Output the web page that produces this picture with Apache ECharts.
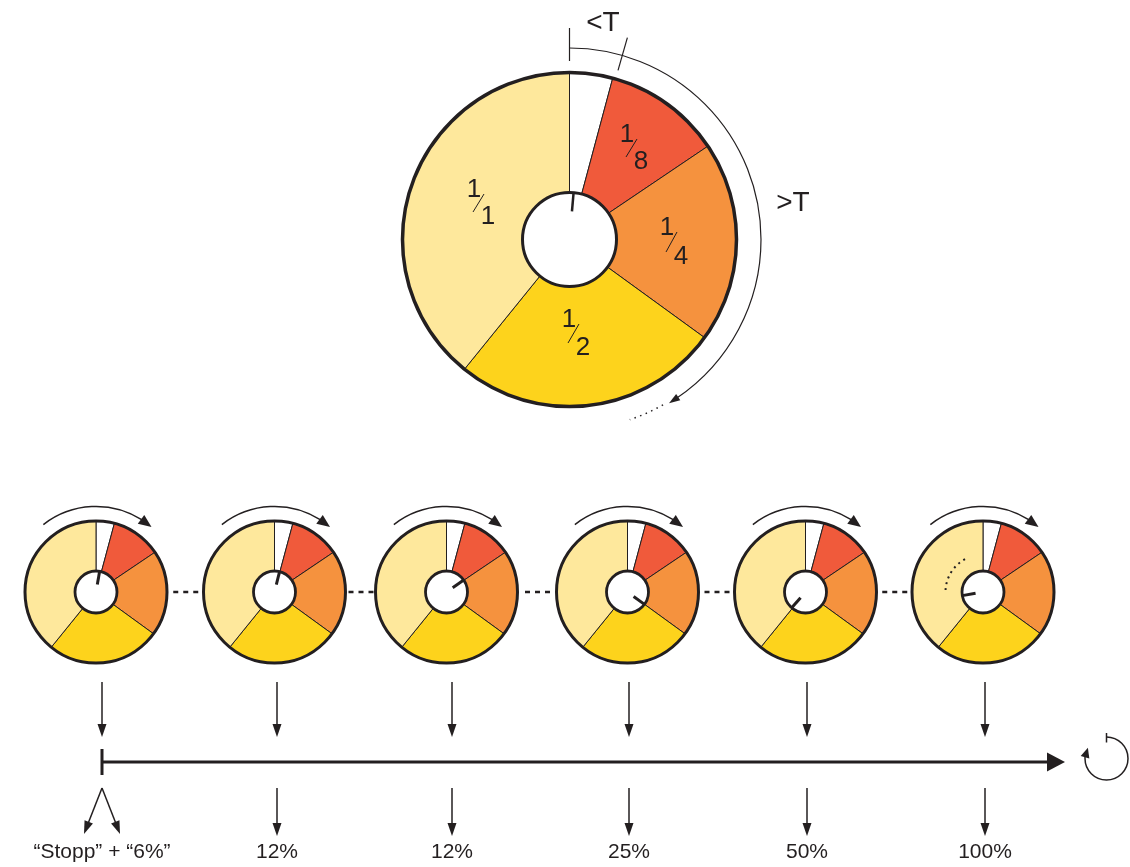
<!DOCTYPE html>
<html>
<head>
<meta charset="utf-8">
<title>Zyklus</title>
<script src="https://cdn.jsdelivr.net/npm/echarts@6/dist/echarts.min.js"></script>
<style>
  html, body { margin: 0; padding: 0; background: #fff; }
  #chart { width: 1130px; height: 867px; }
</style>
</head>
<body>
<div id="chart"></div>
<script>
// dial slices, clockwise from 12 o'clock, in degrees
var sliceNames = ['<T', '1/8', '1/4', '1/2', '1/1'];
var sliceDegrees = [15, 41, 70, 93, 141];
// fractions written in the big dial (slices 1..4)
var fracNum = ['1', '1', '1', '1'];
var fracDen = ['8', '4', '2', '1'];
// needle angle of the big dial and of each step dial (degrees clockwise from top)
var bigNeedle = 5;
var stepNeedles = [10, 14, 55, 126, 221, 260];
// texts under the time line
var stepLabels = ['\u201cStopp\u201d + \u201c6%\u201d', '12%', '12%', '25%', '50%', '100%'];
var topMarks = ['<T', '>T'];

// layout / style
var ink = '#231f20';
var sliceColors = ['#ffffff', '#f05a3b', '#f5923e', '#fdd31c', '#fee89c'];
var FONT = '"Liberation Sans", Arial, Helvetica, sans-serif';
var big = { cx: 569.5, cy: 239.5, r0: 47, r1: 167 };
var smallX = [96, 274.5, 446.5, 627.5, 805.5, 983];
var smallY = 592, smallR0 = 21, smallR1 = 71;
var stepX = [102, 277, 452, 629, 807, 985];
var lineY = 762;
var fracPos = [[627, 135, 641, 162], [667, 228, 681, 257], [569, 320, 583, 348], [474, 190, 488, 217]];

var chart = echarts.init(document.getElementById('chart'));

function pieData() {
  return sliceNames.map(function (n, i) {
    return { name: n, value: sliceDegrees[i], itemStyle: { color: sliceColors[i] } };
  });
}

function dialPie(cx, cy, r0, r1) {
  return {
    type: 'pie',
    center: [cx, cy],
    radius: [r0, r1],
    startAngle: 90,
    clockwise: true,
    silent: true,
    label: { show: false },
    labelLine: { show: false },
    emphasis: { disabled: true },
    itemStyle: { borderColor: ink, borderWidth: 1 },
    data: pieData()
  };
}

// needles: one hidden polar system per dial
var polars = [], angleAxes = [], radiusAxes = [], needleSeries = [];
function addNeedle(cx, cy, r, angle, from, width) {
  var k = polars.length;
  polars.push({ center: [cx, cy], radius: r });
  angleAxes.push({ polarIndex: k, type: 'value', min: 0, max: 360, startAngle: 90, clockwise: true, show: false });
  radiusAxes.push({ polarIndex: k, type: 'value', min: 0, max: 1, show: false });
  needleSeries.push({
    type: 'line',
    coordinateSystem: 'polar',
    polarIndex: k,
    symbol: 'none',
    silent: true,
    z: 60,
    lineStyle: { color: ink, width: width, cap: 'butt' },
    data: [[from, angle], [1, angle]]
  });
}

// helpers for the drawing around the dials
function rad(c) { return (c - 90) * Math.PI / 180; }
function pt(cx, cy, r, c) {
  var a = c * Math.PI / 180;
  return [cx + r * Math.sin(a), cy - r * Math.cos(a)];
}
function lineEl(x1, y1, x2, y2, w, dash) {
  return {
    type: 'line', z: 50, silent: true,
    shape: { x1: x1, y1: y1, x2: x2, y2: y2 },
    style: { stroke: ink, lineWidth: w, lineDash: dash || null }
  };
}
function arcEl(cx, cy, r, a0, a1, w, dash) {
  return {
    type: 'arc', z: 50, silent: true,
    shape: { cx: cx, cy: cy, r: r, startAngle: rad(a0), endAngle: rad(a1), clockwise: true },
    style: { stroke: ink, fill: 'none', lineWidth: w, lineDash: dash || null }
  };
}
function ring(cx, cy, r, w) {
  return {
    type: 'circle', z: 50, silent: true,
    shape: { cx: cx, cy: cy, r: r },
    style: { stroke: ink, fill: 'none', lineWidth: w }
  };
}
function head(tip, dx, dy, len, hw) {
  var n = Math.sqrt(dx * dx + dy * dy);
  dx /= n; dy /= n;
  var bx = tip[0] - dx * len, by = tip[1] - dy * len;
  return {
    type: 'polygon', z: 51, silent: true,
    shape: { points: [tip, [bx - dy * hw, by + dx * hw], [bx + dy * hw, by - dx * hw]] },
    style: { fill: ink }
  };
}
function textEl(x, y, s, size) {
  return {
    type: 'text', z: 52, silent: true, x: x, y: y,
    style: {
      text: s, fontSize: size, fontFamily: FONT, fill: ink,
      align: 'center', verticalAlign: 'middle',
      textAlign: 'center', textVerticalAlign: 'middle'
    }
  };
}
// arc with an arrow head at its clockwise end
function arcArrow(els, cx, cy, r, a0, aTip, w, len, hw) {
  var tip = pt(cx, cy, r, aTip);
  var aBase = aTip - len / r * 180 / Math.PI;
  var base = pt(cx, cy, r, aBase);
  els.push(arcEl(cx, cy, r, a0, aBase + 0.5, w));
  els.push(head(tip, tip[0] - base[0], tip[1] - base[1], len, hw));
}
function arrow(els, x1, y1, x2, y2, w, len, hw) {
  var dx = x2 - x1, dy = y2 - y1, n = Math.sqrt(dx * dx + dy * dy);
  els.push(lineEl(x1, y1, x2 - dx / n * (len - 1), y2 - dy / n * (len - 1), w));
  els.push(head([x2, y2], dx, dy, len, hw));
}

var series = [dialPie(big.cx, big.cy, big.r0, big.r1)];
addNeedle(big.cx, big.cy, big.r0, bigNeedle, 0.6, 2.5);
smallX.forEach(function (x, i) {
  series.push(dialPie(x, smallY, smallR0, smallR1));
  addNeedle(x, smallY, smallR0, stepNeedles[i], 0.36, 3);
});
series = series.concat(needleSeries);

var els = [];
// big dial rings
els.push(ring(big.cx, big.cy, big.r1, 3.5));
els.push(ring(big.cx, big.cy, big.r0, 3));
// fractions
fracPos.forEach(function (p, i) {
  els.push(textEl(p[0], p[1], fracNum[i], 26));
  els.push(textEl(p[2], p[3], fracDen[i], 26));
  els.push(lineEl(p[0] - 1, p[3] - 5, p[2] - 4, p[1] + 4, 1));
});
// outer time arc of the big dial
els.push(lineEl(big.cx, 28, big.cx, 61, 1.2));
var tk0 = pt(big.cx, big.cy, 176, 16), tk1 = pt(big.cx, big.cy, 210, 16);
els.push(lineEl(tk0[0], tk0[1], tk1[0], tk1[1], 1.2));
arcArrow(els, big.cx, big.cy, 191.5, 0, 148.7, 1.2, 11, 3.8);
els.push(arcEl(big.cx, big.cy, 190, 150.5, 161.5, 1.5, [1.5, 4.5]));
els.push(textEl(603, 23, topMarks[0], 28));
els.push(textEl(793, 203, topMarks[1], 28));

// step dials
smallX.forEach(function (x, i) {
  els.push(ring(x, smallY, smallR1, 3));
  els.push(ring(x, smallY, smallR0, 2.8));
  arcArrow(els, x, smallY, 85.5, -38, 40.5, 1.5, 13, 5.5);
  if (i < smallX.length - 1) {
    var mid = (x + smallR1 + smallX[i + 1] - smallR1) / 2;
    els.push(lineEl(mid - 12, smallY, mid + 13, smallY, 2.5, [5, 5]));
  }
});
els.push(arcEl(smallX[5], smallY, 37.5, 273, 337, 2, [2, 4]));

// time line
els.push(lineEl(stepX[0], lineY, 1049, lineY, 3));
els.push(head([1065, lineY], 1, 0, 18, 9.5));
els.push(lineEl(stepX[0], lineY - 13, stepX[0], lineY + 13, 3));
// loop symbol
var lc = [1106.5, 758.5];
arcArrow(els, lc[0], lc[1], 21.5, 0, 300, 1.5, 10, 4.5);
els.push(lineEl(lc[0], lc[1] - 16, lc[0], lc[1] - 25.5, 1.5));

// arrows and labels per step
stepX.forEach(function (x, i) {
  arrow(els, x, 682, x, 737, 1.5, 13, 4.5);
  if (i === 0) {
    arrow(els, x, 788, x - 18, 834, 1.5, 13, 4.5);
    arrow(els, x, 788, x + 18, 834, 1.5, 13, 4.5);
  } else {
    arrow(els, x, 788, x, 836, 1.5, 13, 4.5);
  }
  els.push(textEl(x, 852, stepLabels[i], 21));
});

var option = {
  animation: false,
  backgroundColor: '#ffffff',
  polar: polars,
  angleAxis: angleAxes,
  radiusAxis: radiusAxes,
  series: series,
  graphic: { elements: els }
};

option && chart.setOption(option);
</script>
</body>
</html>
